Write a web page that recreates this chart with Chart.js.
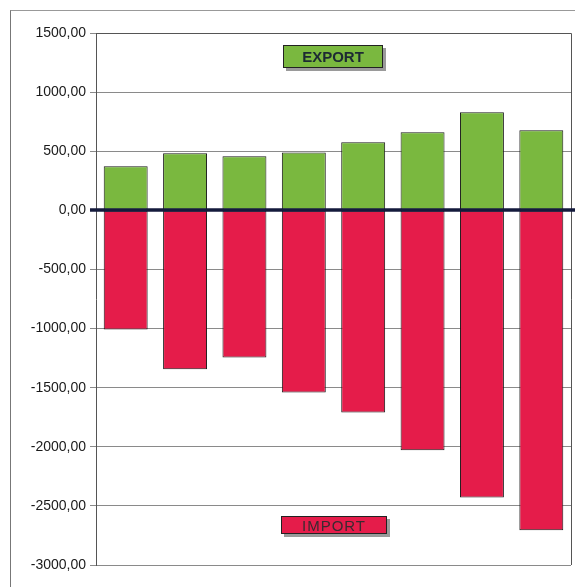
<!DOCTYPE html>
<html>
<head>
<meta charset="utf-8">
<script src="https://cdn.jsdelivr.net/npm/chart.js@4/dist/chart.umd.min.js"></script>
<style>
  html, body { margin: 0; padding: 0; background: #fff; }
  #wrap { position: relative; width: 575px; height: 587px; overflow: hidden; }
  #frame { position: absolute; left: 10px; top: 10px; width: 600px; height: 600px;
           border-left: 1px solid #777; border-top: 1px solid #999; box-sizing: border-box; }
  canvas { position: absolute; left: 0; top: 0; }
  .tag { position: absolute; font-family: "Liberation Sans", Arial, sans-serif; font-size: 15px;
         text-align: center; border: 1px solid #222; box-shadow: 3px 3px 0 #9a9a9a; box-sizing: border-box; }
  #exp { left: 283px; top: 45px; width: 100px; height: 23px; line-height: 21px;
         background: #7ab83f; color: #1d2a33; font-weight: bold; }
  #imp { left: 281px; top: 516px; width: 106px; height: 18px; line-height: 17px;
         background: #e51c4a; color: #3a2a30; letter-spacing: 1px; }
</style>
</head>
<body>
<div id="wrap">
  <div id="frame"></div>
  <canvas id="c" width="575" height="587"></canvas>
  <div class="tag" id="exp">EXPORT</div>
  <div class="tag" id="imp">IMPORT</div>
</div>
<script>
// Eight periods, export above zero and import below
const categories = ['1', '2', '3', '4', '5', '6', '7', '8'];
const exportValues = [372, 482, 457, 490, 575, 660, 829, 677];
const importValues = [-1007, -1345, -1244, -1540, -1709, -2030, -2428, -2707];
const yTicks = [1500, 1000, 500, 0, -500, -1000, -1500, -2000, -2500, -3000];

const fmt = v => v.toFixed(2).replace('.', ',');

// Frame around the plot area plus the heavy zero line
const framePlugin = {
  id: 'frame',
  afterDatasetsDraw(chart) {
    const { ctx, chartArea: a, scales } = chart;
    ctx.save();
    ctx.strokeStyle = '#555';
    ctx.lineWidth = 1;
    ctx.beginPath();
    ctx.moveTo(a.left, a.top + 0.5);
    ctx.lineTo(a.right + 0.5, a.top + 0.5);
    ctx.lineTo(a.right + 0.5, a.bottom);
    ctx.stroke();
    const y0 = Math.round(scales.y.getPixelForValue(0));
    ctx.strokeStyle = '#141a3c';
    ctx.lineWidth = 3.5;
    ctx.beginPath();
    ctx.moveTo(a.left - 6, y0);
    ctx.lineTo(chart.width, y0);
    ctx.stroke();
    ctx.restore();
  }
};

new Chart(document.getElementById('c'), {
  type: 'bar',
  data: {
    labels: categories,
    datasets: [
      { label: 'EXPORT', data: exportValues, backgroundColor: '#7ab83f',
        borderColor: '#1a1a1a', borderWidth: 1, borderSkipped: false,
        barPercentage: 0.74, categoryPercentage: 1 },
      { label: 'IMPORT', data: importValues, backgroundColor: '#e51c4a',
        borderColor: '#1a1a1a', borderWidth: 1, borderSkipped: false,
        barPercentage: 0.74, categoryPercentage: 1 }
    ]
  },
  options: {
    responsive: false,
    animation: false,
    devicePixelRatio: 1,
    layout: { padding: { left: 0, top: 33, right: 4, bottom: 22 } },
    plugins: { legend: { display: false }, tooltip: { enabled: false } },
    scales: {
      x: { stacked: true, display: false },
      y: {
        stacked: true,
        min: -3000, max: 1500,
        afterBuildTicks: s => { s.ticks = yTicks.map(v => ({ value: v })); },
        afterFit: s => { s.width = 96; },
        border: { display: true, color: '#555', width: 1 },
        grid: { color: '#8a8a8a', lineWidth: 1, tickLength: 6, drawOnChartArea: true },
        ticks: {
          padding: 4,
          color: '#1a1a1a',
          font: { family: '"Liberation Sans", Arial, sans-serif', size: 14 },
          callback: v => fmt(v)
        }
      }
    }
  },
  plugins: [framePlugin]
});
</script>
</body>
</html>
